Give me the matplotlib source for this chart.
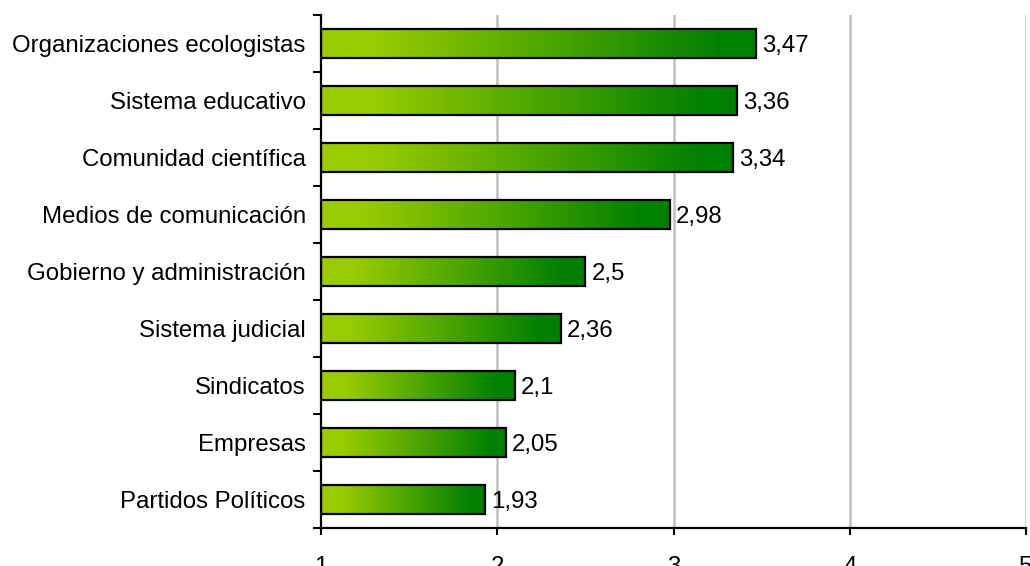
import numpy as np
import matplotlib
matplotlib.use("Agg")
import matplotlib.pyplot as plt
from matplotlib.colors import LinearSegmentedColormap

categories = ["Organizaciones ecologistas", "Sistema educativo", "Comunidad científica",
              "Medios de comunicación", "Gobierno y administración", "Sistema judicial",
              "Sindicatos", "Empresas", "Partidos Políticos"]
values = [3.47, 3.36, 3.34, 2.98, 2.5, 2.36, 2.1, 2.05, 1.93]
value_labels = ["3,47", "3,36", "3,34", "2,98", "2,5", "2,36", "2,1", "2,05", "1,93"]
xticks = [1, 2, 3, 4, 5]

plt.rcParams['font.family'] = ['Liberation Sans', 'DejaVu Sans']
FS = 17.3

W, H = 1030, 566
fig = plt.figure(figsize=(W/100, H/100), dpi=100)
ax = fig.add_axes([321/W, 1 - 528/H, (1026-321)/W, (528-15)/H])

cmap = LinearSegmentedColormap.from_list(
    "g", [(0, "#99cc00"), (0.12, "#99cc00"), (0.92, "#008000"), (1, "#008000")])
grad = np.linspace(0, 1, 256).reshape(1, -1)
ypos = np.arange(len(categories))
bh = 0.5
for y, v in zip(ypos, values):
    ax.imshow(grad, cmap=cmap, aspect='auto', extent=(1, v, y + bh/2, y - bh/2),
              interpolation='bilinear', zorder=2)
ax.barh(ypos, np.array(values) - 1, left=1, height=bh, facecolor='none',
        edgecolor='black', linewidth=1.6, zorder=3)
for y, v, t in zip(ypos, values, value_labels):
    ax.text(v + 0.035, y, t, va='center_baseline', ha='left', fontsize=FS, zorder=4)

ax.set_xlim(1, 5)
ax.set_ylim(len(categories) - 0.5, -0.5)
ax.set_xticks(xticks)
ax.set_xticklabels([str(x) for x in xticks], fontsize=FS)
ax.set_yticks(ypos)
ax.set_yticklabels(categories, fontsize=FS, va='center_baseline')
ax.tick_params(axis='y', which='major', length=0, pad=11)
ax.set_yticks(np.arange(-0.5, len(categories)), minor=True)
ax.tick_params(axis='y', which='minor', length=6, width=1.5, direction='out')
ax.tick_params(axis='x', length=5, width=1.5, direction='out', pad=15)
for x in xticks[1:]:
    ax.axvline(x, color='#c0c0c0', linewidth=1.8, zorder=1)
for s in ['top', 'right']:
    ax.spines[s].set_visible(False)
for s in ['left', 'bottom']:
    ax.spines[s].set_linewidth(1.6)
    ax.spines[s].set_zorder(5)

fig.savefig("out.png", dpi=100)
